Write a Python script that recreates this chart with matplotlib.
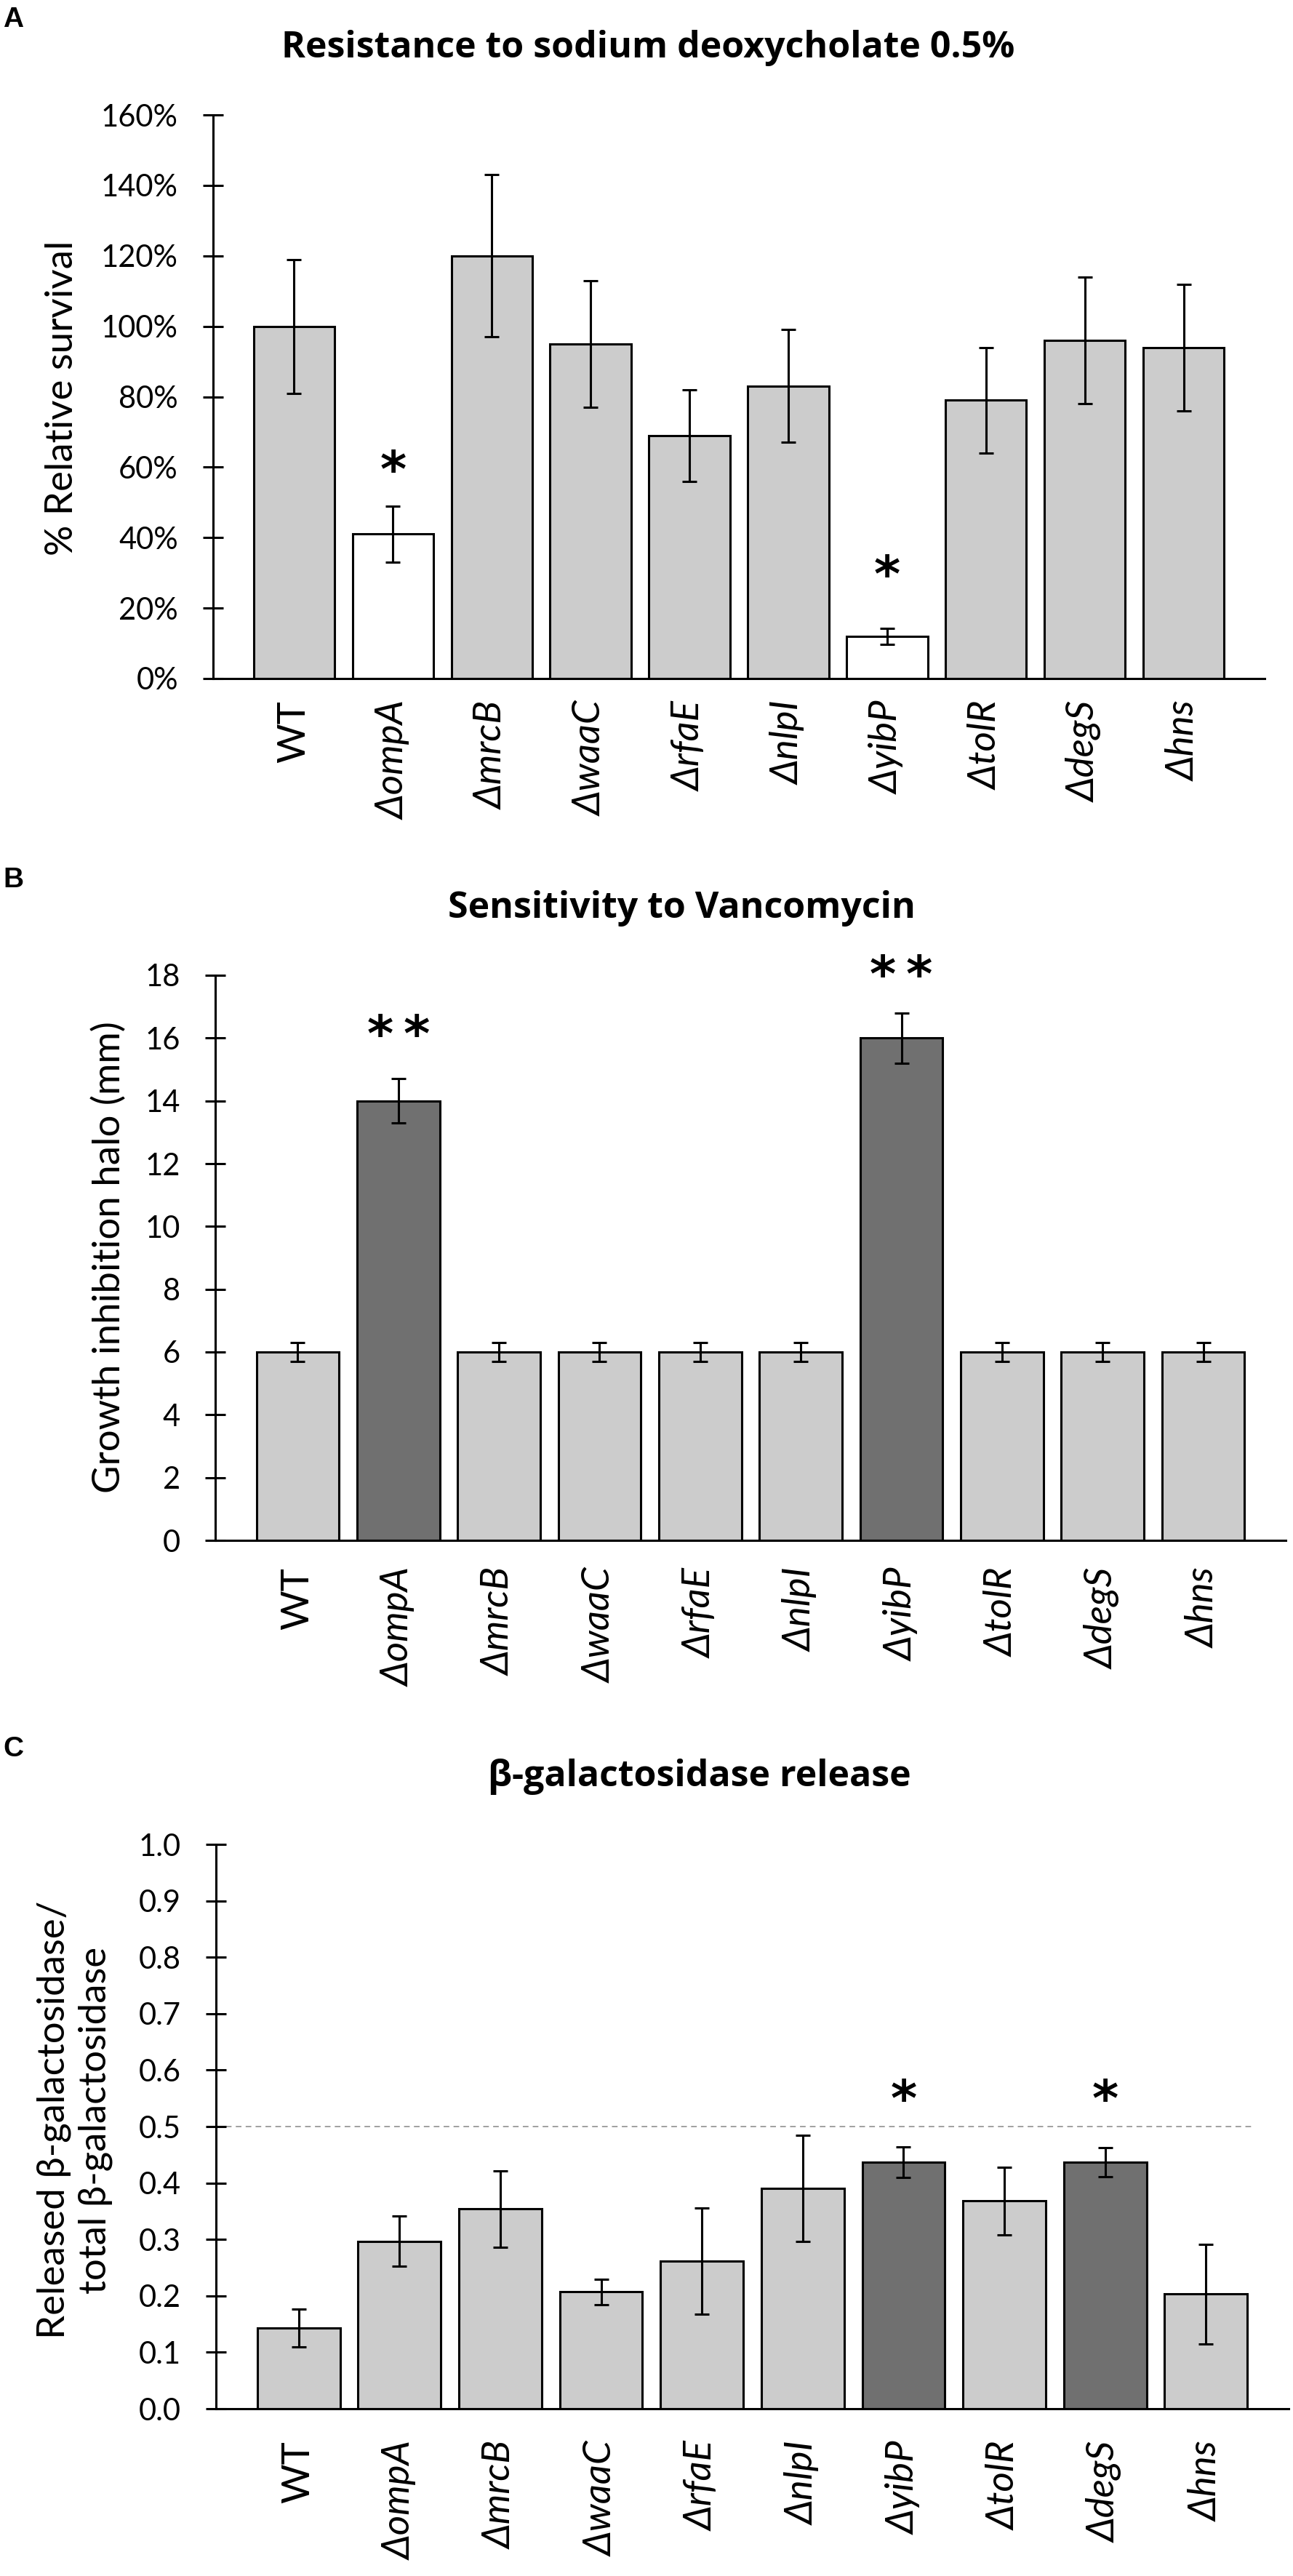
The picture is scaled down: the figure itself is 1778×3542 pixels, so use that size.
import matplotlib
matplotlib.use('Agg')
import matplotlib.pyplot as plt
from matplotlib.ticker import FixedLocator, FixedFormatter

# ---------------- data ----------------
strains = ['WT', 'ΔompA', 'ΔmrcB', 'ΔwaaC', 'ΔrfaE', 'ΔnlpI', 'ΔyibP', 'ΔtolR', 'ΔdegS', 'Δhns']

survival = [100, 41, 120, 95, 69, 83, 12, 79, 96, 94]
survival_err = [19, 8, 23, 18, 13, 16, 2.3, 15, 18, 18]
survival_sig = ['', '*', '', '', '', '', '*', '', '', '']
survival_sig_y = [0, 58.6, 0, 0, 0, 0, 28.9, 0, 0, 0]
survival_white = [False, True, False, False, False, False, True, False, False, False]

halo = [6, 14, 6, 6, 6, 6, 16, 6, 6, 6]
halo_err = [0.3, 0.7, 0.3, 0.3, 0.3, 0.3, 0.8, 0.3, 0.3, 0.3]
halo_sig = ['', '**', '', '', '', '', '**', '', '', '']
halo_sig_y = [0, 16.05, 0, 0, 0, 0, 17.95, 0, 0, 0]
halo_dark = [False, True, False, False, False, False, True, False, False, False]

release = [0.143, 0.297, 0.354, 0.207, 0.262, 0.391, 0.437, 0.368, 0.437, 0.203]
release_err = [0.034, 0.044, 0.068, 0.023, 0.094, 0.094, 0.027, 0.060, 0.026, 0.088]
release_sig = ['', '', '', '', '', '', '*', '', '*', '']
release_sig_y = [0, 0, 0, 0, 0, 0, 0.544, 0, 0.544, 0]
release_dark = [False, False, False, False, False, False, True, False, True, False]
release_threshold = 0.5

yticks_a = [0, 20, 40, 60, 80, 100, 120, 140, 160]
yticklabels_a = ['0%', '20%', '40%', '60%', '80%', '100%', '120%', '140%', '160%']
yticks_b = [0, 2, 4, 6, 8, 10, 12, 14, 16, 18]
yticklabels_b = ['0', '2', '4', '6', '8', '10', '12', '14', '16', '18']
yticks_c = [0.0, 0.1, 0.2, 0.3, 0.4, 0.5, 0.6, 0.7, 0.8, 0.9, 1.0]
yticklabels_c = ['0.0', '0.1', '0.2', '0.3', '0.4', '0.5', '0.6', '0.7', '0.8', '0.9', '1.0']

# ---------------- style ----------------
W, H, DPI = 1778, 3542, 200
LIGHT = '#cccccc'
DARK = '#707070'
WHITE = '#ffffff'
BODY = ['Lato', 'DejaVu Sans']
TITLE = ['Open Sans', 'DejaVu Sans']
LETTER = ['Liberation Sans', 'DejaVu Sans']
LW = 1.1

plt.rcParams['font.family'] = BODY

fig = plt.figure(figsize=(W / DPI, H / DPI), dpi=DPI)


def fx(px):
    return px / W


def fy(py):
    return 1 - py / H


def make_axes(left, right, top, bottom):
    return fig.add_axes([fx(left), fy(bottom), fx(right - left), (bottom - top) / H])


def style_axes(ax, yticks, yticklabels, ylim, xpad):
    x = list(range(len(strains)))
    ax.set_xlim(-0.82, len(strains) - 1 + 0.82)
    ax.set_ylim(*ylim)
    for s in ['top', 'right']:
        ax.spines[s].set_visible(False)
    for s in ['left', 'bottom']:
        ax.spines[s].set_linewidth(LW)
    ax.yaxis.set_major_locator(FixedLocator(yticks))
    ax.yaxis.set_major_formatter(FixedFormatter(yticklabels))
    ax.tick_params(axis='y', direction='inout', length=10, width=LW, pad=12.3,
                   labelsize=15)
    ax.set_xticks(x)
    ax.set_xticklabels(strains, rotation=90, fontsize=19)
    ax.tick_params(axis='x', length=0, pad=xpad)
    for lab, name in zip(ax.get_xticklabels(), strains):
        lab.set_family(BODY)
        lab.set_style('italic' if name.startswith('Δ') else 'normal')


def draw_bars(ax, values, errs, colors, sig, sig_y, star_size):
    x = list(range(len(strains)))
    ax.bar(x, values, width=0.82, color=colors, edgecolor='black', linewidth=LW,
           zorder=2)
    ax.errorbar(x, values, yerr=errs, fmt='none', ecolor='black', elinewidth=LW,
                capsize=3.6, capthick=LW, zorder=3)
    for xi, s, sy in zip(x, sig, sig_y):
        if s:
            ax.text(xi, sy, s, ha='center', va='center', fontsize=star_size,
                    fontweight='bold', family=['DejaVu Sans'], zorder=4)


# ---------------- Panel A ----------------
axA = make_axes(293, 1739, 158, 933)
colsA = [WHITE if w else LIGHT for w in survival_white]
draw_bars(axA, survival, survival_err, colsA, survival_sig, survival_sig_y, 25)
style_axes(axA, yticks_a, yticklabels_a, (0, 160), 11)
fig.text(fx(891), fy(79), 'Resistance to sodium deoxycholate 0.5%', ha='center',
         va='baseline', fontsize=18, fontweight='bold', family=TITLE)
fig.text(fx(4), fy(37), 'A', ha='left', va='baseline', fontsize=14,
         fontweight='bold', family=LETTER)
fig.text(fx(86), fy(547), '% Relative survival', rotation=90, ha='center',
         va='center', fontsize=19)

# ---------------- Panel B ----------------
axB = make_axes(296, 1768, 1341, 2118)
colsB = [DARK if d else LIGHT for d in halo_dark]
sigB = [s.replace('**', '*\u2009*') for s in halo_sig]
draw_bars(axB, halo, halo_err, colsB, sigB, halo_sig_y, 25)
style_axes(axB, yticks_b, yticklabels_b, (0, 18), 13.5)
fig.text(fx(937), fy(1262), 'Sensitivity to Vancomycin', ha='center',
         va='baseline', fontsize=18, fontweight='bold', family=TITLE)
fig.text(fx(4), fy(1220), 'B', ha='left', va='baseline', fontsize=14,
         fontweight='bold', family=LETTER)
fig.text(fx(150), fy(1729), 'Growth inhibition halo (mm)', rotation=90,
         ha='center', va='center', fontsize=19)

# ---------------- Panel C ----------------
axC = make_axes(297, 1772, 2536, 3312)
colsC = [DARK if d else LIGHT for d in release_dark]
draw_bars(axC, release, release_err, colsC, release_sig, release_sig_y, 25)
style_axes(axC, yticks_c, yticklabels_c, (0, 1.0), 16)
axC.axhline(release_threshold, xmin=0, xmax=0.968, color='#a0a0a0', lw=0.7,
            ls=(0, (4, 3)), zorder=1)
fig.text(fx(962), fy(2456), 'β-galactosidase release', ha='center',
         va='baseline', fontsize=18, fontweight='bold', family=TITLE)
fig.text(fx(4), fy(2415), 'C', ha='left', va='baseline', fontsize=14,
         fontweight='bold', family=LETTER)
fig.text(fx(103), fy(2915), 'Released β-galactosidase/\ntotal β-galactosidase',
         rotation=90, ha='center', va='center', fontsize=19, linespacing=1.25)

fig.savefig('out.png', dpi=DPI)
